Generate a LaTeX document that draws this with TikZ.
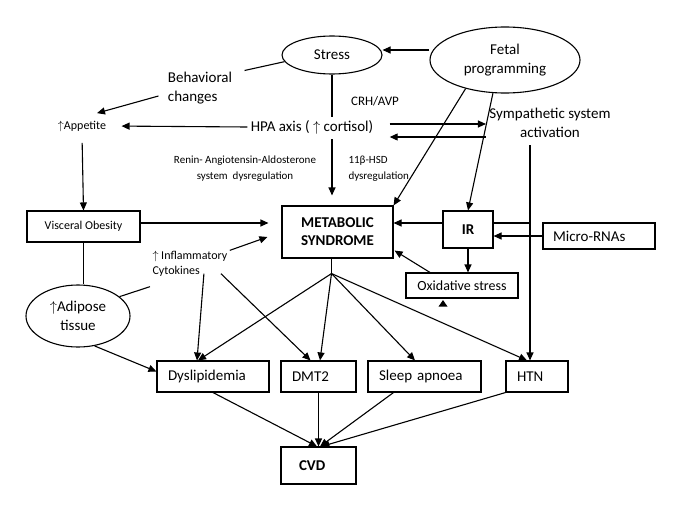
\documentclass[tikz,border=0pt]{standalone}
\usepackage{fontspec}
\setmainfont{Carlito}
\usetikzlibrary{shapes.geometric,arrows.meta}
\begin{document}
\begin{tikzpicture}[x=1pt,y=-1pt,
  lw/.style={line width=1.1pt},
  arr/.style={lw,-{Triangle[length=8pt,width=7pt]}},
  boxnode/.style={draw,lw,inner ysep=0pt},
  ell/.style={draw,lw,ellipse,inner sep=0pt},
  fa/.style={font=\fontsize{15}{19}\selectfont},
  fb/.style={font=\fontsize{15}{18}\selectfont\bfseries},
  fc/.style={font=\fontsize{14}{17}\selectfont},
  fd/.style={font=\fontsize{13}{16}\selectfont},
  fe/.style={font=\fontsize{12}{15}\selectfont},
  ff/.style={font=\fontsize{11}{16}\selectfont}]
\useasboundingbox (0,0) rectangle (685,522);

% nodes
\node[ell,fa,minimum width=100pt,minimum height=38pt] (stress) at (332,55) {Stress};
\node[ell,fa,minimum width=150pt,minimum height=66pt,align=center] (fetal) at (505,60) {Fetal\\programming};
\node[fa,align=left] (behav) at (200,88) {Behavioral\\changes};
\node[fe] (app) at (82,126) {$\uparrow$Appetite};
\node[fa] (hpa) at (312,127) {HPA axis ( $\uparrow$ cortisol)};
\node[fd] (crh) at (375,101) {CRH/AVP};
\node[ff,align=center] (renin) at (245,169) {Renin- Angiotensin-Aldosterone\\system\ \ dysregulation};
\node[ff,align=left,anchor=west] (hsd) at (345,169) {11β-HSD\\dysregulation};
\node[fa,align=center] (symp) at (550,123) {Sympathetic system\\activation};
\node[boxnode,fb,minimum width=111pt,minimum height=52pt,align=center] (mets) at (337.5,232) {METABOLIC\\SYNDROME};
\node[boxnode,fb,minimum width=50pt,minimum height=37pt] (ir) at (468,229.5) {IR};
\node[boxnode,fa,text width=92pt,inner xsep=10pt,minimum height=26pt,align=left] (micro) at (599,236) {Micro-RNAs};
\node[boxnode,fc,minimum width=112pt,minimum height=25pt] (oxi) at (462,285.5) {Oxidative stress};
\node[boxnode,fe,minimum width=113pt,minimum height=31pt] (visc) at (83.5,226.5) {Visceral Obesity};
\node[fe,align=left,anchor=west] (cyto) at (149,263.5) {$\uparrow$ Inflammatory\\Cytokines};
\node[ell,fa,minimum width=104pt,minimum height=62pt,align=center] (adip) at (78,316) {$\uparrow$Adipose\\tissue};
\node[boxnode,fa,text width=90pt,inner xsep=11pt,minimum height=31pt,align=left] (dys) at (213,376.5) {Dyslipidemia};
\node[boxnode,fa,text width=53pt,inner xsep=11pt,minimum height=31pt,align=left] (dmt) at (318.5,376.5) {DMT2};
\node[boxnode,fa,text width=91pt,inner xsep=11pt,minimum height=31pt,align=left] (sleep) at (424.5,376.5) {Sleep apnoea};
\node[boxnode,fa,text width=40pt,inner xsep=11pt,minimum height=31pt,align=left] (htn) at (537,376.5) {HTN};
\node[boxnode,fb,text width=39pt,inner xsep=18pt,minimum height=37pt,align=left] (cvd) at (318.5,465.5) {CVD};

\coordinate (vx) at ([shift={(-7,0)}]htn.north);
\coordinate (br) at ([shift={(-6,15)}]mets.south);

% top part
\draw[arr] ([shift={(0,-10)}]fetal.west) -- ([shift={(0,-5)}]stress.east);
\draw[lw] (stress.188) -- ([shift={(9,2)}]behav.east |- behav.north);
\draw[arr] ([shift={(-6,8)}]behav.west) -- ([shift={(15,-4)}]app.north);
\draw[arr,shorten >=12pt] (hpa.west) -- (app.east);
\draw[lw] (stress.south) -- (stress.south |- hpa.north);
\draw[arr,shorten <=2pt,shorten >=10pt] (stress.south |- hpa.south) -- (stress.south |- mets.north);
\draw[arr] ([shift={(13,-3)}]hpa.east) -- ([shift={(0,-3)}]hpa.east -| symp.west);
\draw[arr] ([shift={(0,10)}]hpa.east -| symp.west) -- ([shift={(13,10)}]hpa.east);
\draw[arr] (fetal.216) -- (mets.north east);
\draw[arr] (fetal.250) -- (ir.north);
\draw[arr] ([shift={(0,4)}]vx |- symp.south) -- (vx);

% middle
\draw[arr] ([shift={(0,-6.5)}]ir.west) -- ([shift={(0,-6.5)}]ir.west -| mets.east);
\draw[lw] ([shift={(0,-6.5)}]ir.east) -- ([shift={(0,-6.5)}]ir.east -| vx);
\draw[arr] (micro.west) -- (micro.west -| ir.east);
\draw[arr] (ir.south) -- (ir.south |- oxi.north);
\draw[arr] ([shift={(-32,0)}]oxi.north) -- ([shift={(1,-8)}]mets.south east);
\fill ([shift={(-19,1.5)}]oxi.south) -- ([shift={(-23.5,8)}]oxi.south) -- ([shift={(-14.5,8)}]oxi.south) -- cycle;
\draw[arr,shorten <=8pt] (app.south) -- (visc.north);
\draw[arr,shorten >=13pt] ([shift={(0,-3.5)}]visc.east) -- ([shift={(0,-3.5)}]visc.east -| mets.west);
\draw[arr] ([shift={(-1,3)}]cyto.north east) -- ([shift={(-14,5)}]mets.west);
\draw[lw] (visc.south) -- (visc.south |- adip.north);
\draw[lw] ([shift={(1,7)}]cyto.south west) -- (adip.25);

% lower
\draw[arr] ([shift={(14,-6)}]cyto.south) -- ([shift={(-16,0)}]dys.north);
\draw[arr] ([shift={(31,-6)}]cyto.south) -- ([shift={(-8,0)}]dmt.north);
\draw[lw] (br |- mets.south) -- (br);
\draw[arr] (br) -- ([shift={(-15,0)}]dys.north);
\draw[arr] (br) -- ([shift={(1.5,0)}]dmt.north);
\draw[arr] (br) -- ([shift={(-9.5,0)}]sleep.north);
\draw[arr] (br) -- ([shift={(-10,0)}]htn.north);
\draw[arr] (adip.299) -- ([shift={(0,-5)}]dys.west);
\draw[arr] (dys.south) -- ([shift={(-1.5,0)}]cvd.north);
\draw[arr] (dmt.south) -- (cvd.north);
\draw[arr] ([shift={(-31,0)}]sleep.south) -- ([shift={(1.5,0)}]cvd.north);
\draw[arr] (htn.south west) -- ([shift={(3,0)}]cvd.north);
\end{tikzpicture}
\end{document}
